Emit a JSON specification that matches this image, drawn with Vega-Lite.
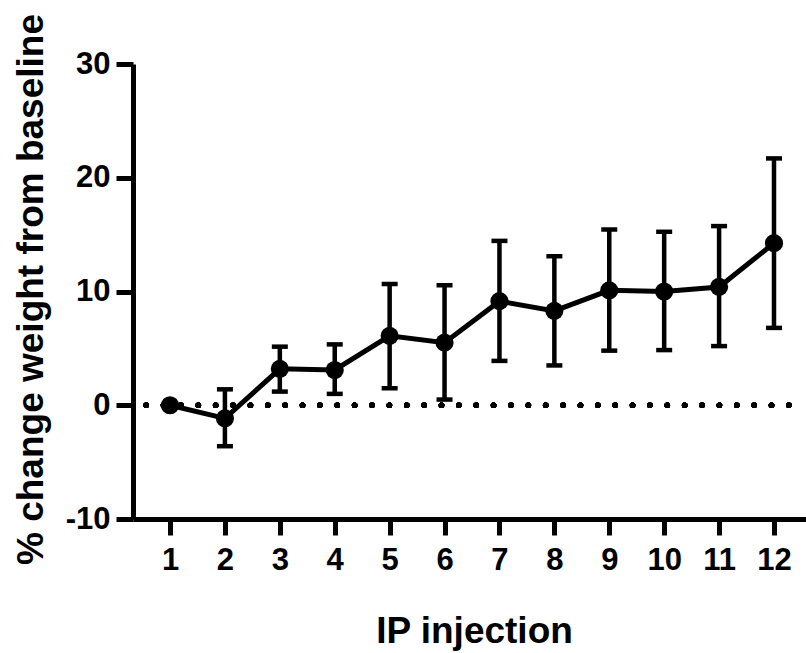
{
  "$schema": "https://vega.github.io/schema/vega-lite/v6.json",
  "width": 673,
  "height": 455,
  "autosize": "none",
  "padding": {"left": 133, "top": 64, "right": 0, "bottom": 134},
  "background": "white",
  "config": {
    "view": {"stroke": null},
    "axis": {
      "grid": false,
      "domainColor": "black",
      "domainWidth": 5,
      "tickColor": "black",
      "tickWidth": 5,
      "labelFont": "Liberation Sans",
      "labelFontWeight": "bold",
      "labelColor": "black",
      "titleFont": "Liberation Sans",
      "titleFontWeight": "bold",
      "titleFontSize": 37,
      "titleColor": "black"
    }
  },
  "data": {
    "values": [
      {"inj": 1, "mean": 0, "lo": 0, "hi": 0},
      {"inj": 2, "mean": -1.15, "lo": -3.6, "hi": 1.4},
      {"inj": 3, "mean": 3.2, "lo": 1.2, "hi": 5.15},
      {"inj": 4, "mean": 3.1, "lo": 1.0, "hi": 5.35},
      {"inj": 5, "mean": 6.1, "lo": 1.5, "hi": 10.65},
      {"inj": 6, "mean": 5.5, "lo": 0.5, "hi": 10.55},
      {"inj": 7, "mean": 9.15, "lo": 3.9, "hi": 14.45},
      {"inj": 8, "mean": 8.3, "lo": 3.5, "hi": 13.1},
      {"inj": 9, "mean": 10.1, "lo": 4.8, "hi": 15.45},
      {"inj": 10, "mean": 10.0, "lo": 4.85, "hi": 15.25},
      {"inj": 11, "mean": 10.4, "lo": 5.2, "hi": 15.75},
      {"inj": 12, "mean": 14.25, "lo": 6.8, "hi": 21.7}
    ]
  },
  "layer": [
    {
      "mark": {"type": "rule", "color": "black", "strokeWidth": 5.5, "strokeDash": [0.1, 17.27], "strokeCap": "round", "strokeDashOffset": 0.3},
      "encoding": {"y": {"datum": 0, "type": "quantitative"}}
    },
    {
      "mark": {"type": "rule", "color": "black", "strokeWidth": 4.5},
      "encoding": {
        "x": {"field": "inj", "type": "quantitative"},
        "y": {"field": "lo", "type": "quantitative"},
        "y2": {"field": "hi"}
      }
    },
    {
      "mark": {"type": "tick", "color": "black", "orient": "horizontal", "size": 16, "thickness": 4.5, "opacity": 1},
      "encoding": {
        "x": {"field": "inj", "type": "quantitative"},
        "y": {"field": "lo", "type": "quantitative"}
      }
    },
    {
      "mark": {"type": "tick", "color": "black", "orient": "horizontal", "size": 16, "thickness": 4.5, "opacity": 1},
      "encoding": {
        "x": {"field": "inj", "type": "quantitative"},
        "y": {"field": "hi", "type": "quantitative"}
      }
    },
    {
      "mark": {"type": "line", "color": "black", "strokeWidth": 5},
      "encoding": {
        "x": {"field": "inj", "type": "quantitative"},
        "y": {"field": "mean", "type": "quantitative"}
      }
    },
    {
      "mark": {"type": "point", "shape": "circle", "filled": true, "color": "black", "opacity": 1, "size": 330},
      "encoding": {
        "x": {
          "field": "inj",
          "type": "quantitative",
          "scale": {"domain": [0.326, 12.583], "nice": false, "zero": false},
          "axis": {
            "values": [1, 2, 3, 4, 5, 6, 7, 8, 9, 10, 11, 12],
            "format": "d",
            "labelFontSize": 31,
            "tickSize": 16,
            "labelPadding": 10,
            "title": "IP injection",
            "titleX": 341,
            "titleY": 123,
            "titleBaseline": "alphabetic",
            "titleAlign": "center"
          }
        },
        "y": {
          "field": "mean",
          "type": "quantitative",
          "scale": {"domain": [-10, 30], "nice": false, "zero": false},
          "axis": {
            "values": [-10, 0, 10, 20, 30],
            "labelExpr": "datum.value + ''",
            "labelFontSize": 31,
            "tickSize": 17,
            "labelPadding": 6,
            "title": "% change weight from baseline",
            "titleX": -91,
            "titleY": 225,
            "titleAngle": -90,
            "titleBaseline": "alphabetic",
            "titleAlign": "center"
          }
        }
      }
    }
  ]
}
